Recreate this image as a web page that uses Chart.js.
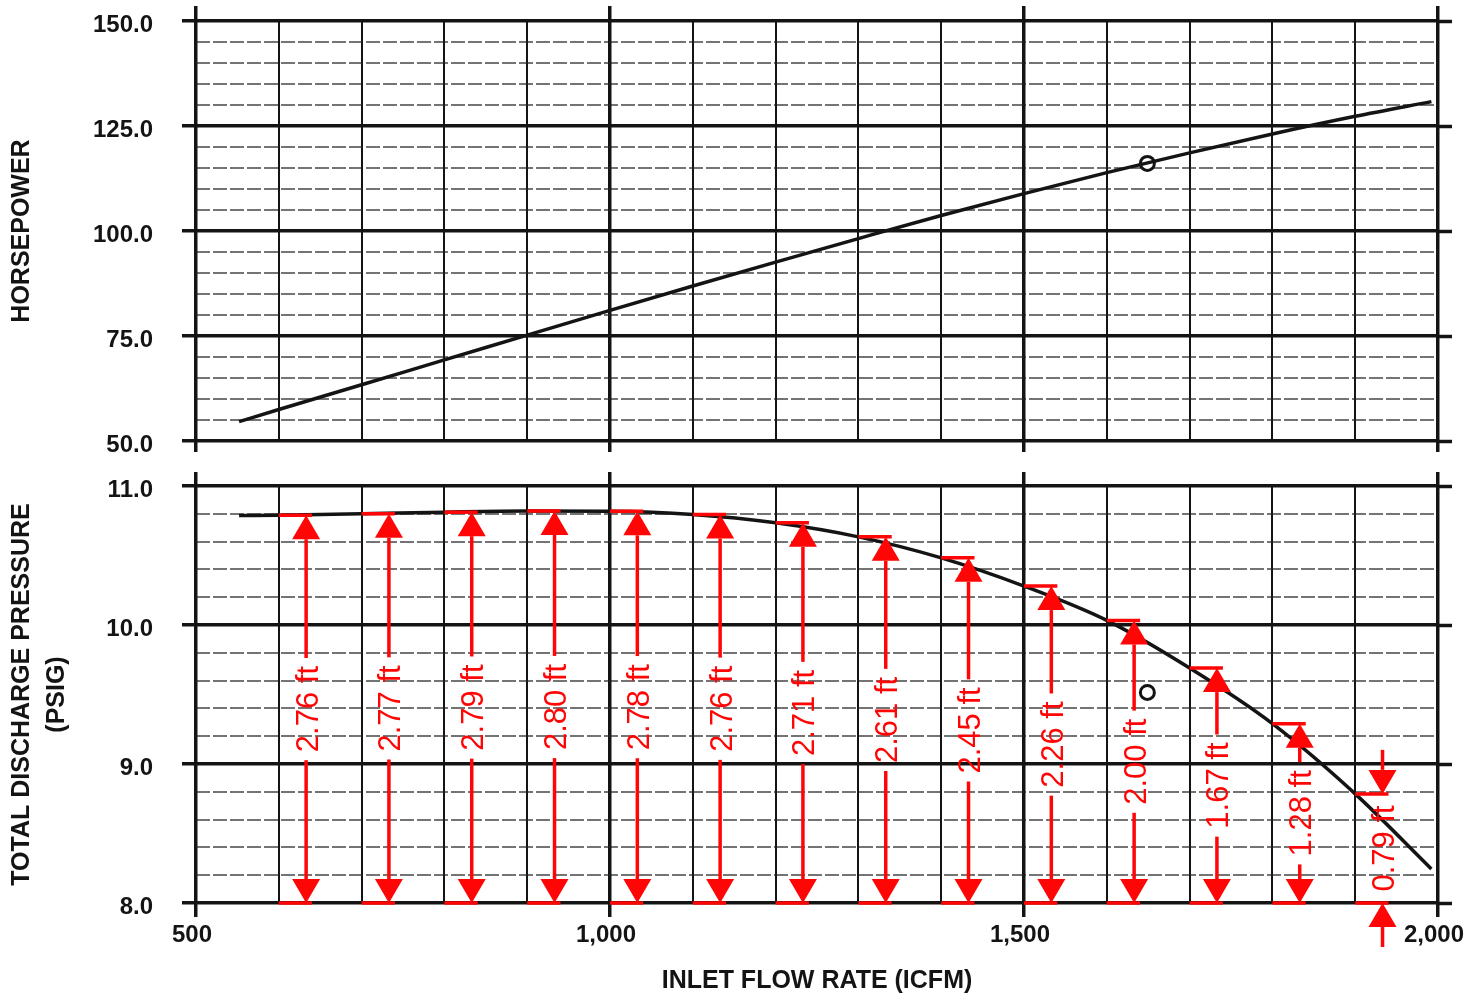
<!DOCTYPE html>
<html><head><meta charset="utf-8">
<script src="https://cdn.jsdelivr.net/npm/chart.js@4.4.1/dist/chart.umd.min.js"></script>
<style>
html,body{margin:0;padding:0;background:#fff;overflow:hidden;width:1464px;height:997px;}
canvas{position:absolute;left:0;}
#hp{top:0;} #pr{top:462px;}
</style></head><body>
<canvas id="hp" width="1464" height="462"></canvas>
<canvas id="pr" width="1464" height="535"></canvas>
<script>
// ---- data ----
const flowRates  = [552, 600, 700, 800, 900, 1000, 1100, 1200, 1300, 1400, 1500, 1600, 1700, 1800, 1900, 1992];
const horsepower = [54.6, 57.5, 63.4, 69.3, 75.2, 81.1, 86.9, 92.6, 98.2, 103.7, 108.9, 113.9, 118.6, 123.1, 127.3, 130.8];
const pressure   = [10.787, 10.79, 10.80, 10.812, 10.82, 10.818, 10.795, 10.735, 10.634, 10.483, 10.28, 10.033, 9.69, 9.29, 8.785, 8.245];
const ratedFlow = [1649];
const ratedHP = [116.1];
const ratedPressure = [9.515];
const headFlows  = [600, 700, 800, 900, 1000, 1100, 1200, 1300, 1400, 1500, 1600, 1700, 1800, 1900];
const headLabels = ['2.76 ft','2.77 ft','2.79 ft','2.80 ft','2.78 ft','2.76 ft','2.71 ft','2.61 ft','2.45 ft','2.26 ft','2.00 ft','1.67 ft','1.28 ft','0.79 ft'];
const xTickValues = [500, 1000, 1500, 2000];
const xTickLabels = ['500', '1,000', '1,500', '2,000'];
const hpTickValues = [50, 75, 100, 125, 150];
const hpTickLabels = ['50.0', '75.0', '100.0', '125.0', '150.0'];
const psTickValues = [8, 9, 10, 11];
const psTickLabels = ['8.0', '9.0', '10.0', '11.0'];
const xTitle = 'INLET FLOW RATE (ICFM)';
const hpTitle = 'HORSEPOWER';
const psTitle = ['TOTAL DISCHARGE PRESSURE', '(PSIG)'];

// ---- styles ----
const BLACK = '#141414';
const RED = '#ff0505';
const MINOR_GRID = 'rgba(30,30,30,0.62)';
const FONT = '"Liberation Sans", Arial, Helvetica, sans-serif';
Chart.defaults.font.family = FONT;
Chart.defaults.color = BLACK;

const isMult = (v, s) => Math.abs(v / s - Math.round(v / s)) < 1e-6;
const labelFrom = (vals, labs) => (v) => { const k = vals.findIndex(t => Math.abs(t - v) < 1e-6); return k >= 0 ? labs[k] : ''; };
const noPad = s => { s.paddingTop = 0; s.paddingBottom = 0; s.paddingLeft = 0; s.paddingRight = 0; };

function xAxes(bottomH, bottomTick, topH, topTick, showLabels) {
  const gridBase = {
    color: BLACK,
    lineWidth: c => isMult(c.tick.value, 500) ? 3.5 : 2,
    tickColor: c => isMult(c.tick.value, 500) ? BLACK : 'rgba(0,0,0,0)',
    tickWidth: 3.5
  };
  return {
    x: {
      type: 'linear', position: 'bottom', min: 500, max: 2000,
      ticks: {
        display: showLabels, stepSize: 100, autoSkip: false, maxRotation: 0, minRotation: 0,
        callback: labelFrom(xTickValues, xTickLabels),
        font: { size: 24, weight: 'bold' }, color: BLACK, padding: 4, labelOffset: -4
      },
      grid: Object.assign({}, gridBase, { tickLength: bottomTick }),
      border: { display: false },
      title: showLabels ? { display: true, text: xTitle, font: { size: 25, weight: 'bold', lineHeight: 1.2 }, color: BLACK, padding: { top: 0, bottom: 1 } } : { display: false },
      afterFit: s => { s.height = bottomH; noPad(s); }
    },
    xTop: {
      type: 'linear', position: 'top', min: 500, max: 2000,
      ticks: { display: false, stepSize: 100, autoSkip: false },
      grid: Object.assign({}, gridBase, { tickLength: topTick, drawOnChartArea: false }),
      border: { display: false },
      afterFit: s => { s.height = topH; noPad(s); }
    }
  };
}

function yAxes(min, max, major, minor, vals, labs, title, titlePad, lh) {
  return {
    y: {
      type: 'linear', position: 'left', min, max,
      ticks: {
        stepSize: major, callback: labelFrom(vals, labs),
        font: { size: 24, weight: 'bold' }, color: BLACK, padding: 29, labelOffset: 4
      },
      grid: { color: BLACK, lineWidth: 3.5, tickLength: 14, tickColor: BLACK, tickWidth: 3.5 },
      border: { display: false },
      title: { display: true, text: title, font: { size: 25, weight: 'bold', lineHeight: lh }, color: BLACK, padding: { top: titlePad, bottom: 0 } },
      afterFit: s => { s.width = 196; noPad(s); }
    },
    yMinor: {
      type: 'linear', position: 'left', min, max,
      ticks: { display: false, stepSize: minor },
      grid: {
        color: c => isMult(c.tick.value - min, major) ? 'rgba(0,0,0,0)' : MINOR_GRID,
        lineWidth: 2, drawTicks: false
      },
      border: { display: false, dash: [14, 3] },
      afterFit: s => { s.width = 0; noPad(s); }
    },
    yRight: {
      type: 'linear', position: 'right', min, max,
      ticks: { display: false, stepSize: major },
      grid: { drawOnChartArea: false, tickLength: 14, tickColor: BLACK, tickWidth: 3.5 },
      border: { display: false },
      afterFit: s => { s.width = 26; noPad(s); }
    }
  };
}

const basePlugins = { legend: { display: false }, tooltip: { enabled: false } };

// ---- horsepower panel ----
new Chart(document.getElementById('hp'), {
  type: 'line',
  data: {
    datasets: [
      {
        data: flowRates.map((f, i) => ({ x: f, y: horsepower[i] })),
        borderColor: BLACK, borderWidth: 3.5, pointRadius: 0, cubicInterpolationMode: 'monotone', fill: false
      },
      {
        data: ratedFlow.map((f, i) => ({ x: f, y: ratedHP[i] })),
        showLine: false, pointRadius: 7, pointStyle: 'circle',
        pointBackgroundColor: '#fff', pointBorderColor: BLACK, pointBorderWidth: 3
      }
    ]
  },
  options: {
    responsive: false, animation: false, devicePixelRatio: 1,
    layout: { padding: 0 },
    plugins: basePlugins,
    scales: Object.assign({}, xAxes(21, 11, 21, 15, false), yAxes(50, 150, 25, 5, hpTickValues, hpTickLabels, hpTitle, 7, 1.2))
  }
});

// ---- pressure panel with red head annotations ----
const headPlugin = {
  id: 'heads',
  afterDatasetsDraw(chart) {
    const { ctx, scales: { x, y } } = chart;
    const base = y.getPixelForValue(y.min);
    const H = 24, W = 14, GAP = 8, TAIL = 20;
    ctx.save();
    ctx.strokeStyle = RED; ctx.fillStyle = RED; ctx.lineWidth = 3.5; ctx.lineCap = 'butt';
    ctx.font = '31px ' + FONT;
    const seg = (x1, y1, x2, y2) => { ctx.beginPath(); ctx.moveTo(x1, y1); ctx.lineTo(x2, y2); ctx.stroke(); };
    const tri = (xa, tipY, dir) => { // dir -1: points up, +1: points down
      ctx.beginPath(); ctx.moveTo(xa, tipY); ctx.lineTo(xa - W, tipY - dir * H); ctx.lineTo(xa + W, tipY - dir * H); ctx.closePath(); ctx.fill();
    };
    headFlows.forEach((f, i) => {
      const top = y.getPixelForValue(pressure[flowRates.indexOf(f)]);
      const xl = x.getPixelForValue(f);
      const xa = x.getPixelForValue(f + 33);
      const xr = xa + 6;
      seg(xl, top, xr, top);
      seg(xl, base, xr, base);
      const label = headLabels[i];
      const tw = ctx.measureText(label).width;
      const mid = (top + base) / 2;
      if (base - top > tw + 2 * H + 2 * GAP + 20) {
        tri(xa, top, -1);
        tri(xa, base, 1);
        seg(xa, top + H, xa, mid - tw / 2 - GAP);
        seg(xa, mid + tw / 2 + GAP, xa, base - H);
      } else {
        tri(xa, top, 1);
        seg(xa, top - H, xa, top - H - TAIL);
        tri(xa, base, -1);
        seg(xa, base + H, xa, base + H + TAIL);
      }
      ctx.save();
      ctx.translate(xa + 3, mid);
      ctx.rotate(-Math.PI / 2);
      ctx.textAlign = 'center'; ctx.textBaseline = 'middle';
      ctx.fillText(label, 0, 0);
      ctx.restore();
    });
    ctx.restore();
  }
};

new Chart(document.getElementById('pr'), {
  type: 'line',
  data: {
    datasets: [
      {
        data: flowRates.map((f, i) => ({ x: f, y: pressure[i] })),
        borderColor: BLACK, borderWidth: 3.5, pointRadius: 0, cubicInterpolationMode: 'monotone', fill: false
      },
      {
        data: ratedFlow.map((f, i) => ({ x: f, y: ratedPressure[i] })),
        showLine: false, pointRadius: 7, pointStyle: 'circle',
        pointBackgroundColor: '#fff', pointBorderColor: BLACK, pointBorderWidth: 3
      }
    ]
  },
  options: {
    responsive: false, animation: false, devicePixelRatio: 1,
    layout: { padding: 0 },
    plugins: basePlugins,
    scales: Object.assign({}, xAxes(94, 14, 24, 14, true), yAxes(8, 11, 1, 0.2, psTickValues, psTickLabels, psTitle, 4.5, 1.4))
  },
  plugins: [headPlugin]
});
</script>
</body></html>
